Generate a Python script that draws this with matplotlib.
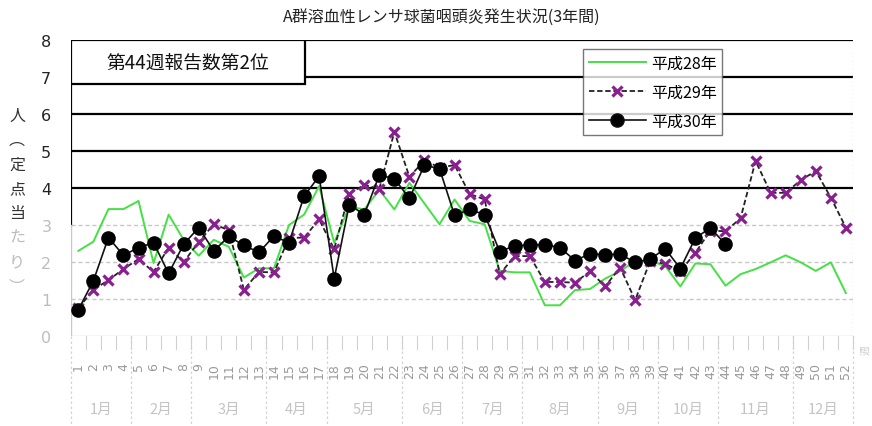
import matplotlib
matplotlib.use("Agg")
import matplotlib.pyplot as plt
from matplotlib.lines import Line2D
from matplotlib.patches import Rectangle

plt.rcParams['font.family'] = ['Noto Sans CJK JP', 'DejaVu Sans']

weeks = list(range(1, 53))
week_labels = [str(w) for w in weeks]
months = ["1月", "2月", "3月", "4月", "5月", "6月", "7月", "8月", "9月", "10月", "11月", "12月"]
month_weeks = [4, 4, 5, 4, 5, 4, 4, 5, 4, 4, 5, 4]

h28 = [2.30, 2.55, 3.43, 3.43, 3.65, 1.97, 3.28, 2.60, 2.17, 2.60,
       2.41, 1.58, 1.83, 1.83, 3.00, 3.28, 4.05, 2.52, 3.50, 3.42,
       3.95, 3.42, 4.14, 3.58, 3.02, 3.69, 3.11, 3.02, 1.76, 1.72,
       1.72, 0.83, 0.83, 1.24, 1.27, 1.55, 1.75, 2.03, 2.03, 1.89,
       1.34, 1.96, 1.94, 1.36, 1.67, 1.81, 1.99, 2.18, 1.99, 1.76,
       1.99, 1.16]
h29 = [0.75, 1.25, 1.51, 1.81, 2.08, 1.73, 2.39, 2.00, 2.54, 3.02,
       2.86, 1.25, 1.73, 1.72, 2.65, 2.66, 3.15, 2.35, 3.85, 4.08,
       3.98, 5.52, 4.30, 4.75, 4.55, 4.62, 3.84, 3.69, 1.67, 2.16,
       2.16, 1.46, 1.46, 1.44, 1.75, 1.34, 1.85, 0.97, 2.03, 1.95,
       1.75, 2.25, 2.85, 2.83, 3.18, 4.73, 3.87, 3.87, 4.21, 4.46,
       3.74, 2.93]
h30 = [0.71, 1.49, 2.66, 2.18, 2.39, 2.52, 1.69, 2.48, 2.93, 2.30,
       2.69, 2.45, 2.26, 2.70, 2.52, 3.78, 4.32, 1.55, 3.55, 3.28,
       4.35, 4.25, 3.72, 4.62, 4.52, 3.26, 3.42, 3.28, 2.28, 2.44,
       2.46, 2.47, 2.39, 2.04, 2.22, 2.20, 2.21, 1.99, 2.08, 2.36,
       1.82, 2.65, 2.92, 2.48]

title = "A群溶血性レンサ球菌咽頭炎発生状況(3年間)"
box_text = "第44週報告数第2位"
series_names = ["平成28年", "平成29年", "平成30年"]
ylabel_chars = ["人", "︵", "定", "点", "当", "た", "り", "︶"]

fig = plt.figure(figsize=(8.72, 4.27), dpi=100)
ax = fig.add_axes([70.8 / 872, 1 - 337 / 427, 782.6 / 872, 296 / 427])
ax.set_xlim(0.5, 52.5)
ax.set_ylim(0, 8)

# grid
for v in [4, 5, 6, 7]:
    ax.axhline(v, color='black', lw=1.6, zorder=1)
for v in [1, 2, 3]:
    ax.axhline(v, color='#c8c8c8', lw=1.0, ls=(0, (3, 2)), zorder=1)

for s in ax.spines.values():
    s.set_visible(False)
ax.axhline(8, color='black', lw=1.6, zorder=1)
ax.axhline(0, color='#cfcfcf', lw=1.0, zorder=1)
ax.axvline(0.5, ymin=3 / 8, ymax=1, color='black', lw=1.6, zorder=1)
ax.axvline(0.5, ymin=0, ymax=3 / 8, color='#c8c8c8', lw=1.0, zorder=1)
ax.axvline(52.5, color='#c8c8c8', lw=1.0, ls=(0, (1, 2)), zorder=1)

ax.plot(weeks, h28, color='#44e044', lw=1.4, zorder=3)
ax.plot(weeks, h29, color='#222222', lw=1.3, ls=(0, (3, 1.5)), marker='x',
        markersize=7.5, markeredgewidth=2.3, markeredgecolor='#8a1f8f', zorder=4)
ax.plot(weeks[:len(h30)], h30, color='#111111', lw=1.2, marker='o',
        markersize=9.5, markerfacecolor='black', markeredgecolor='black', zorder=5)

# y ticks
ax.set_yticks(range(0, 9))
ax.tick_params(axis='y', length=0, pad=14)
for t in ax.get_yticklabels():
    t.set_fontsize(11.5)
    t.set_family(['Liberation Sans Narrow', 'DejaVu Sans'])
for v, t in zip(range(0, 9), ax.get_yticklabels()):
    t.set_color('#222222' if v >= 4 else '#bdbdbd')

# x tick labels
ax.set_xticks(weeks)
ax.set_xticklabels(week_labels, rotation=90, fontsize=9, color='#9a9a9a',
                   family=['DejaVu Sans'])
ax.tick_params(axis='x', length=0, pad=19)

# month labels and separators
start = 1
for m, n in zip(months, month_weeks):
    center = start + (n - 1) / 2
    ax.text(center, -1.97, m, ha='center', va='center', fontsize=10.5,
            color='#c4c4c4', transform=ax.transData, clip_on=False)
    ax.plot([start - 0.5, start - 0.5], [0, -2.4], color='#d4d4d4', lw=0.9,
            ls=(0, (2, 2)), clip_on=False, zorder=0)
    start += n
ax.plot([52.5, 52.5], [0, -2.4], color='#d4d4d4', lw=0.9, ls=(0, (2, 2)),
        clip_on=False, zorder=0)
for w in weeks:
    ax.plot([w + 0.5, w + 0.5], [0, -0.35], color='#d0d0d0', lw=0.8, clip_on=False)

ax.text(53.3, -0.35, "週", rotation=90, fontsize=7, color='#cccccc',
        ha='center', va='center', clip_on=False)

# title
fig.text(442 / 872, 1 - 18 / 427, title, ha='center', va='center', fontsize=11.5,
         color='#222222')

# y label vertical
ytop = 116
for i, ch in enumerate(ylabel_chars):
    col = '#333333' if i < 5 else '#bbbbbb'
    fig.text(17 / 872, 1 - (ytop + i * 24.5) / 427, ch, ha='center', va='center',
             fontsize=11.5, color=col)

# top-left box
ax.add_patch(Rectangle((0.5, 6.8), (305 - 70.8) / 15.05, 1.2, facecolor='white',
                       edgecolor='black', lw=1.6, zorder=6))
ax.text(0.5 + (305 - 70.8) / 15.05 / 2, 7.4, box_text, ha='center', va='center',
        fontsize=13.5, color='#111111', zorder=7)

# legend
handles = [
    Line2D([], [], color='#44e044', lw=1.4),
    Line2D([], [], color='#222222', lw=1.3, ls=(0, (3, 1.5)), marker='x',
           markersize=7.5, markeredgewidth=2.3, markeredgecolor='#8a1f8f'),
    Line2D([], [], color='#111111', lw=1.2, marker='o', markersize=9.5,
           markerfacecolor='black'),
]
leg = fig.legend(handles, series_names, loc='upper left',
                 bbox_to_anchor=(583 / 872, 1 - 50 / 427), frameon=True,
                 fancybox=False, edgecolor='#555555', fontsize=11.5,
                 handlelength=3.6, handletextpad=0.3, labelspacing=0.75,
                 borderpad=0.35, borderaxespad=0)
leg.get_frame().set_linewidth(1.0)
leg.set_zorder(10)

fig.savefig("out.png", dpi=100)
